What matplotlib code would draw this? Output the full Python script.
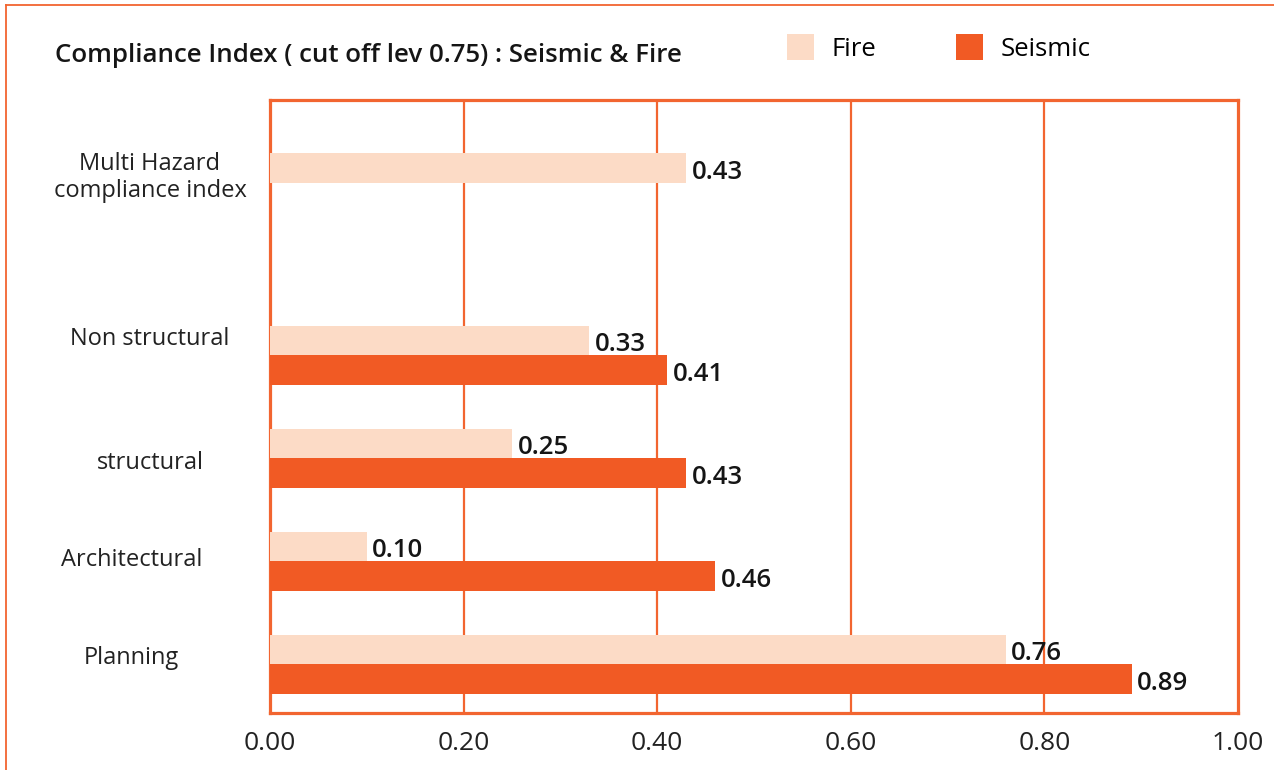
import matplotlib
matplotlib.use("Agg")
import matplotlib.pyplot as plt
from matplotlib.lines import Line2D
from matplotlib.patches import Patch

plt.rcParams['font.family'] = ['Open Sans', 'DejaVu Sans']

# ---- data ----
categories = ["Planning", "Architectural", "structural", "Non structural",
              "Multi Hazard\ncompliance index"]
fire = [0.76, 0.10, 0.25, 0.33, 0.43]
seismic = [0.89, 0.46, 0.43, 0.41, None]
xticks = [0.0, 0.2, 0.4, 0.6, 0.8, 1.0]
title = "Compliance Index ( cut off lev 0.75) : Seismic & Fire"

# ---- layout ----
group_pos = [0, 1, 2, 3, 4.675]
label_pos = [0.06, 1.01, 1.96, 3.16, 4.73]
label_x = [-0.143, -0.143, -0.124, -0.124, -0.124]
bar_h = 0.286

FIRE_C = "#FCDBC6"
SEIS_C = "#F15A24"
LINE_C = "#F26530"

W, H = 1274, 770
fig = plt.figure(figsize=(W / 100, H / 100), dpi=100)
fig.patch.set_facecolor("white")
ax = fig.add_axes([270 / W, (H - 713) / H, (1238 - 270) / W, (713 - 100) / H])

VAL_FS = 18.5
for i, p in enumerate(group_pos):
    f = fire[i]
    s = seismic[i]
    ax.barh(p + bar_h / 2, f, height=bar_h, color=FIRE_C, zorder=3)
    ax.annotate(f"{f:.2f}", (f, p + bar_h / 2), xytext=(4, -3), textcoords="offset points",
                ha="left", va="center", fontsize=VAL_FS, fontweight="semibold", color="#151515")
    if s is not None:
        ax.barh(p - bar_h / 2, s, height=bar_h, color=SEIS_C, zorder=3)
        ax.annotate(f"{s:.2f}", (s, p - bar_h / 2), xytext=(4, -3), textcoords="offset points",
                    ha="left", va="center", fontsize=VAL_FS, fontweight="semibold", color="#151515")

ax.set_xlim(0, 1.0)
ax.set_ylim(-0.471, 5.48)
ax.set_xticks(xticks)
ax.set_xticklabels([f"{t:.2f}" for t in xticks], fontsize=19, color="#222222")
ax.tick_params(axis="x", length=0, pad=13)
ax.set_yticks([])
for x in xticks[1:-1]:
    ax.axvline(x, color=LINE_C, lw=1.6, zorder=2)
for sp in ax.spines.values():
    sp.set_color(LINE_C)
    sp.set_linewidth(2.3)

for lab, lp, lx in zip(categories, label_pos, label_x):
    ax.text(lx, lp, lab, transform=ax.get_yaxis_transform(), ha="center", va="center",
            fontsize=17, color="#222222", linespacing=1.15)

fig.text(55 / W, 1 - 56 / H, title, ha="left", va="center", fontsize=18.65,
         fontweight="semibold", color="#151515")

handles = [Patch(facecolor=FIRE_C, edgecolor="none", label="Fire"),
           Patch(facecolor=SEIS_C, edgecolor="none", label="Seismic")]
fig.legend(handles=handles, loc="center left", bbox_to_anchor=(787 / W, 1 - 48 / H),
           ncol=2, frameon=False, fontsize=18.5, handlelength=1.05, handleheight=1.17,
           handletextpad=0.68, columnspacing=3.1, borderpad=0, borderaxespad=0)

# figure border (top and left)
fig.add_artist(Line2D([6 / W, 1], [1 - 5 / H, 1 - 5 / H], transform=fig.transFigure,
                      color=LINE_C, lw=1.3))
fig.add_artist(Line2D([6 / W, 6 / W], [0, 1 - 5 / H], transform=fig.transFigure,
                      color=LINE_C, lw=1.3))

fig.savefig("out.png", dpi=100)
